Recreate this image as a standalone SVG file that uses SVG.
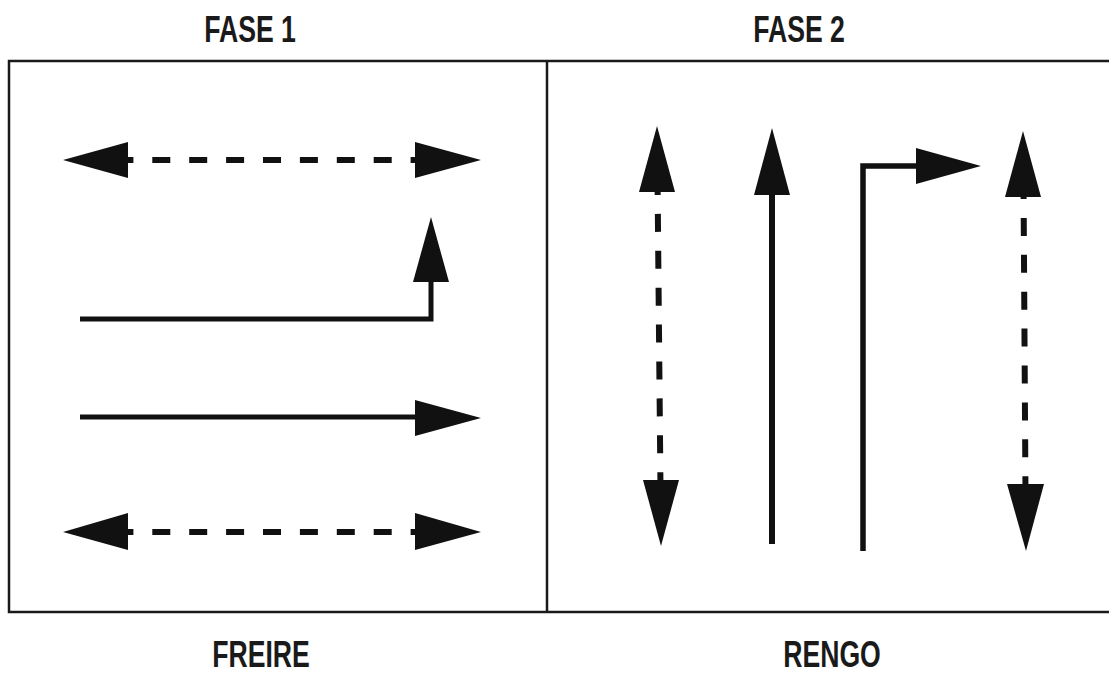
<svg xmlns="http://www.w3.org/2000/svg" width="1109" height="673" viewBox="0 0 1109 673">
  <style>
    .lbl { font-family: "Liberation Sans", Arial, sans-serif; font-weight: bold; font-size: 37px; fill: #1a1a1a; text-anchor: middle; }
    .frame { fill: none; stroke: #1a1a1a; stroke-width: 2.5; }
    .solid { fill: none; stroke: #111; stroke-width: 5; stroke-linecap: butt; stroke-linejoin: miter; }
    .dash { fill: none; stroke: #111; stroke-width: 6; stroke-dasharray: 18 18.9; }
    .head { fill: #111; stroke: none; }
  </style>
  <rect width="1109" height="673" fill="#ffffff"/>

  <g id="labels">
    <text class="lbl" transform="translate(250,42) scale(0.72,1)">FASE 1</text>
    <text class="lbl" transform="translate(799,42) scale(0.72,1)">FASE 2</text>
    <text class="lbl" transform="translate(261,667) scale(0.72,1)">FREIRE</text>
    <text class="lbl" transform="translate(832,667) scale(0.72,1)">RENGO</text>
  </g>

  <g id="frame">
    <path class="frame" d="M1110,61 H9 V612 H1110"/>
    <line class="frame" x1="547" y1="61" x2="547" y2="612"/>
  </g>

  <g id="connectors">
    <!-- Fase 1 row 1: dashed double arrow -->
    <g id="f1-row1">
      <line class="dash" x1="115.4" y1="160" x2="428" y2="160"/>
      <polygon class="head" points="63,160 128,142 128,178"/>
      <polygon class="head" points="481,160 415,142 415,178"/>
    </g>
    <!-- Fase 1 row 2: bent arrow up -->
    <g id="f1-row2">
      <polyline class="solid" points="80,319 431,319 431,280"/>
      <polygon class="head" points="431,217 413,282 449,282"/>
    </g>
    <!-- Fase 1 row 3: straight arrow -->
    <g id="f1-row3">
      <line class="solid" x1="80" y1="417" x2="418" y2="417"/>
      <polygon class="head" points="481,418 415,400 415,436"/>
    </g>
    <!-- Fase 1 row 4: dashed double arrow -->
    <g id="f1-row4">
      <line class="dash" x1="115.4" y1="532" x2="428" y2="532"/>
      <polygon class="head" points="63,532 128,513 128,550"/>
      <polygon class="head" points="481,532 415,513 415,550"/>
    </g>

    <!-- Fase 2 col 1: dashed double vertical -->
    <g id="f2-col1">
      <line class="dash" x1="657.5" y1="177" x2="660.5" y2="490"/>
      <polygon class="head" points="657,126 639,192 675,192"/>
      <polygon class="head" points="661,546 643,480 679,480"/>
    </g>
    <!-- Fase 2 col 2: straight up -->
    <g id="f2-col2">
      <line class="solid" x1="772" y1="544" x2="772" y2="192" style="stroke-width:6"/>
      <polygon class="head" points="772,128 754,195 790,195"/>
    </g>
    <!-- Fase 2 col 3: up then right -->
    <g id="f2-col3">
      <polyline class="solid" points="863,551 863,166 919,166" style="stroke-width:5.5"/>
      <polygon class="head" points="981,166 916,148 916,184"/>
    </g>
    <!-- Fase 2 col 4: dashed double vertical -->
    <g id="f2-col4">
      <line class="dash" x1="1023.5" y1="181" x2="1025.5" y2="495"/>
      <polygon class="head" points="1023,131 1005,197 1041,197"/>
      <polygon class="head" points="1026,551 1007,484 1044,484"/>
    </g>
  </g>
</svg>
